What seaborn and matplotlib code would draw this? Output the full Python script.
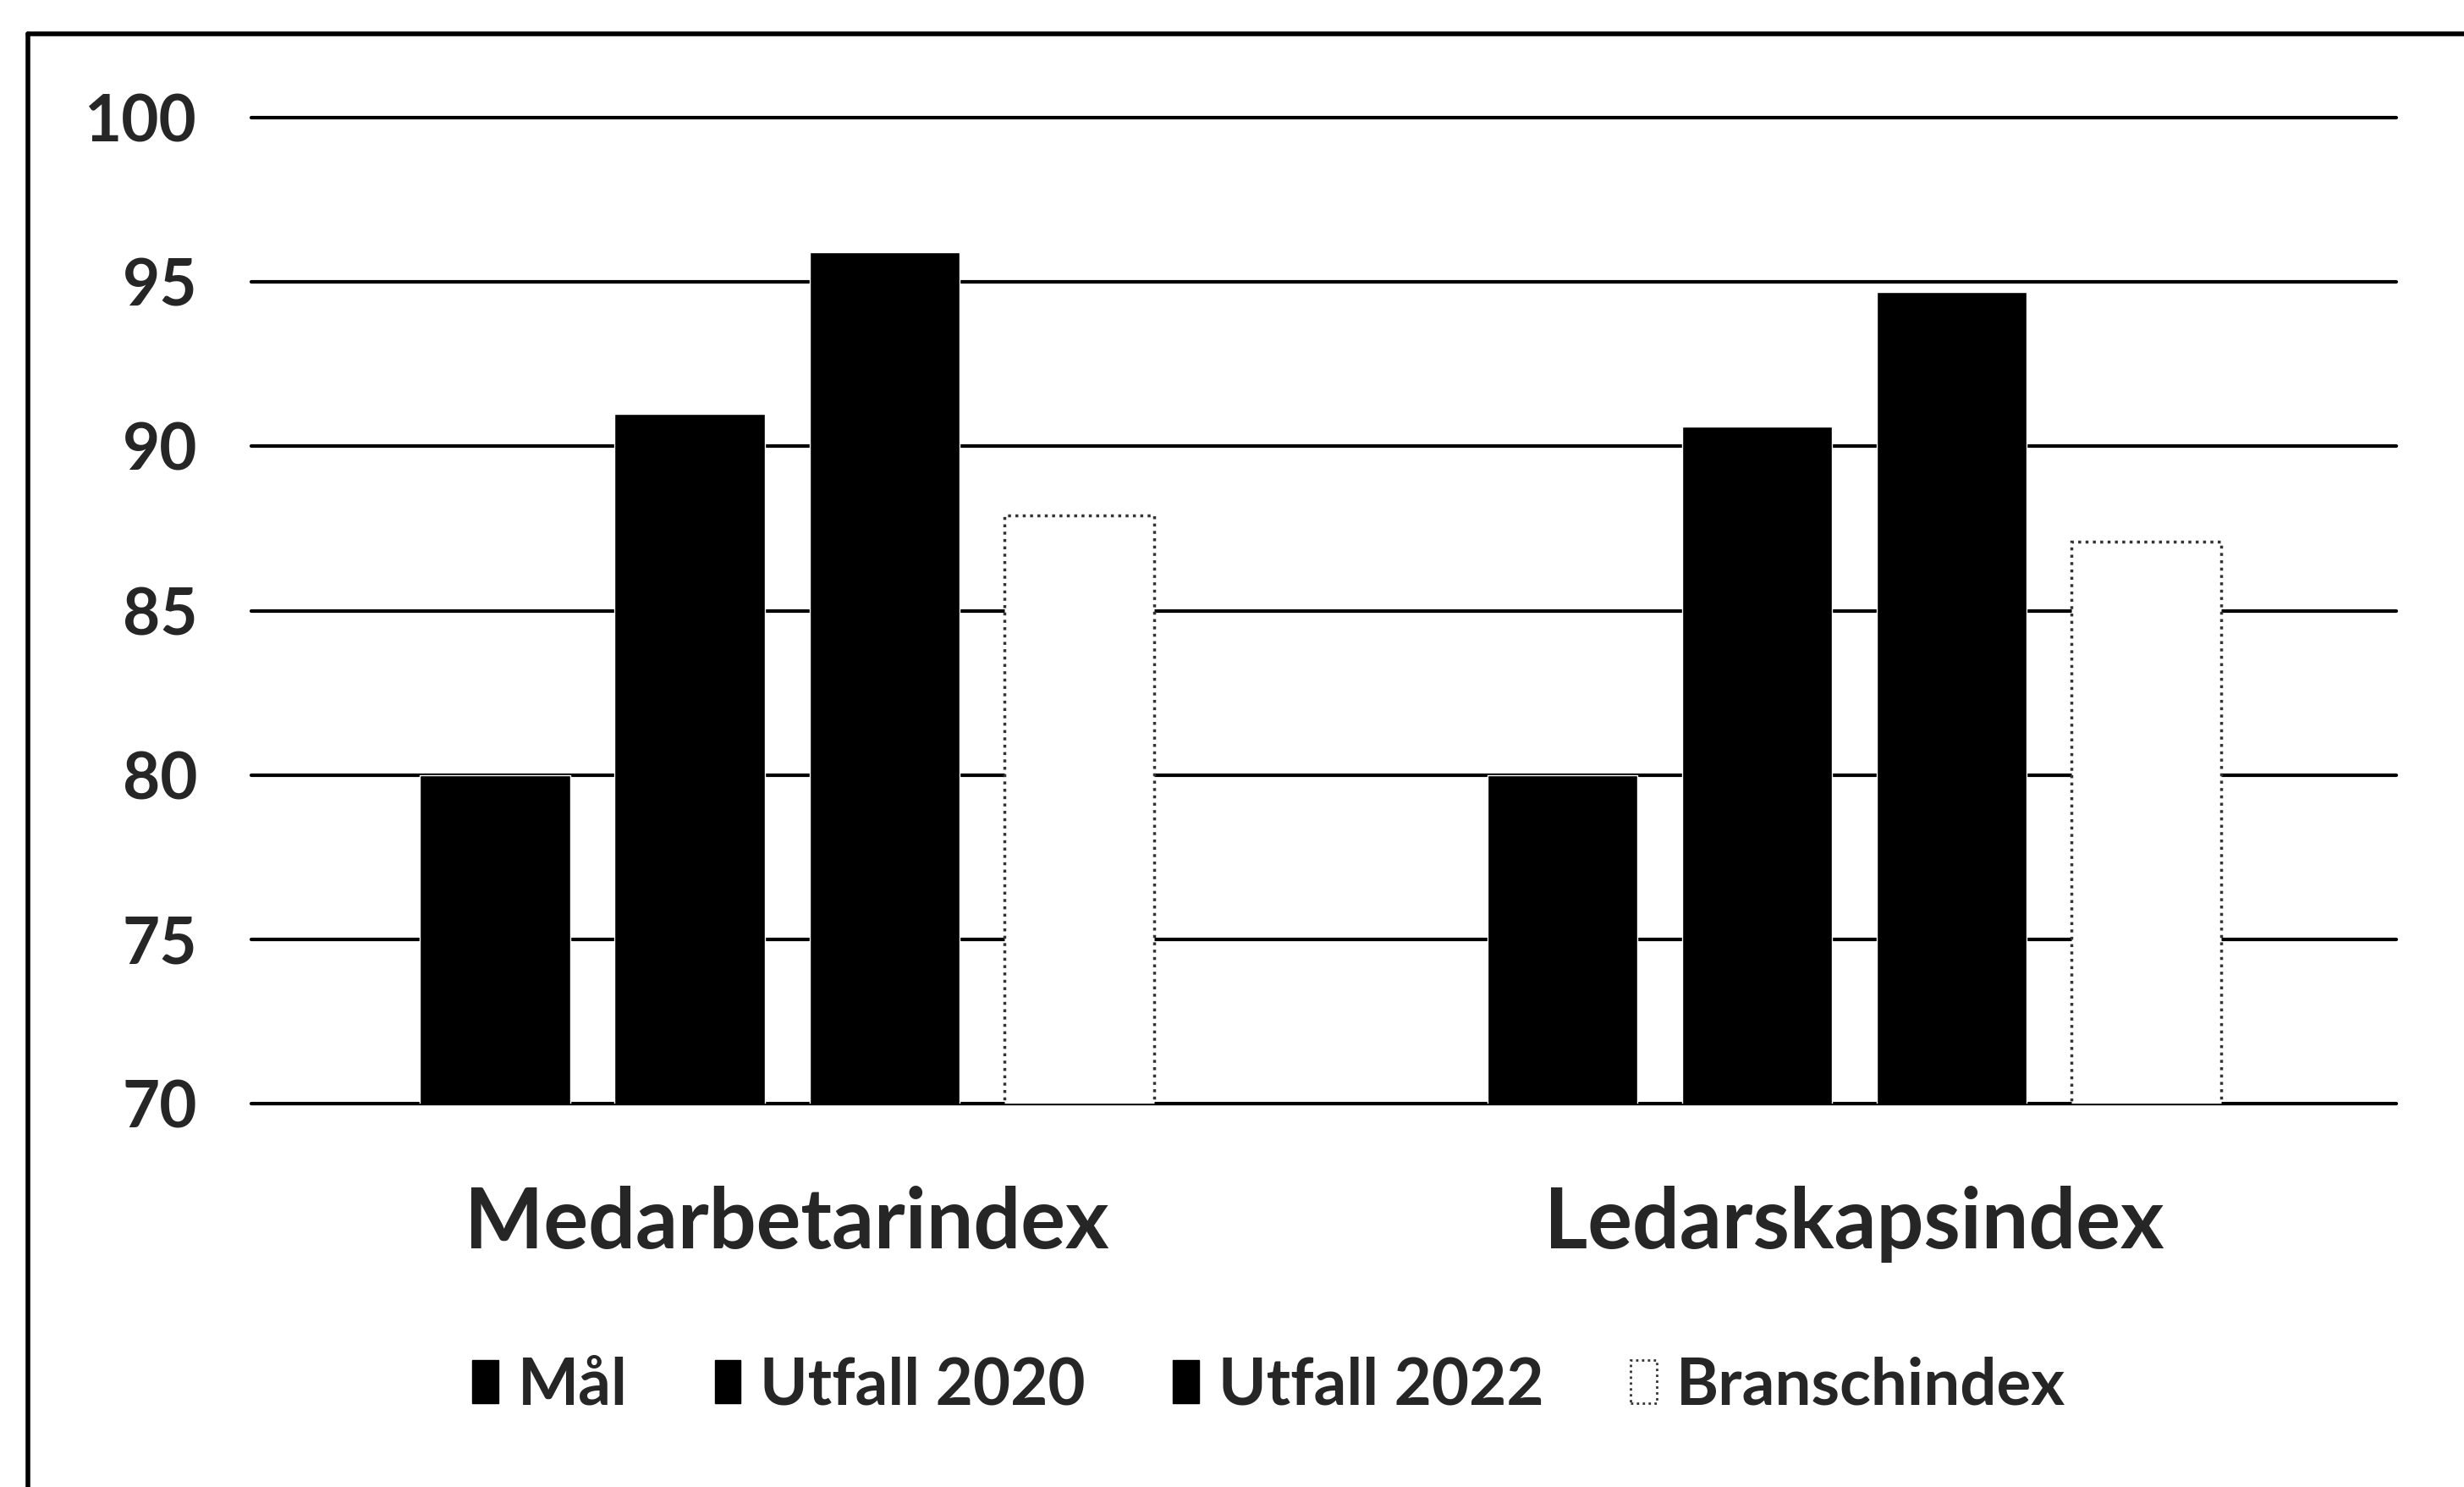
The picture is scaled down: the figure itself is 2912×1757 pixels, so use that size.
import matplotlib
matplotlib.use("Agg")
import matplotlib.pyplot as plt
import seaborn as sns
import pandas as pd
from matplotlib.patches import Patch
from matplotlib.lines import Line2D

categories = ["Medarbetarindex", "Ledarskapsindex"]
series = ["Mål", "Utfall 2020", "Utfall 2022", "Branschindex"]
mal = [80.0, 80.0]
utfall_2020 = [91.0, 90.6]
utfall_2022 = [95.9, 94.7]
branschindex = [87.9, 87.1]
y_ticks = [70, 75, 80, 85, 90, 95, 100]

values = [mal, utfall_2020, utfall_2022, branschindex]
rows = []
for s, vals in zip(series, values):
    for c, v in zip(categories, vals):
        rows.append({"kategori": c, "serie": s, "värde": v})
df = pd.DataFrame(rows)

sns.set_theme(style="white")
plt.rcParams["font.family"] = ["Lato", "DejaVu Sans"]
plt.rcParams["font.weight"] = "bold"

fig = plt.figure(figsize=(29.12, 17.57), dpi=100)
fig.patch.set_facecolor("white")
ax = fig.add_axes([0.102, 0.258, 0.8706, 0.6627])

palette = {"Mål": "black", "Utfall 2020": "black", "Utfall 2022": "black", "Branschindex": "white"}
sns.barplot(data=df, x="kategori", y="värde", hue="serie", hue_order=series,
            order=categories, palette=palette, width=0.73, gap=0.23,
            saturation=1, ax=ax, legend=False, zorder=3)

# Branschindex bars: white with dotted outline
for patch in ax.containers[3]:
    patch.set_edgecolor("#333333")
    patch.set_linestyle((0, (1, 1.5)))
    patch.set_linewidth(2.5)

ax.set_ylim(70, 100)
ax.set_xlim(-0.502, 1.508)
ax.set_yticks(y_ticks)
ax.set_yticklabels([str(t) for t in y_ticks], fontsize=55, fontweight="bold")
for t in y_ticks:
    ax.axhline(t, color="black", lw=3, zorder=1, clip_on=False)
ax.tick_params(axis="y", length=0, pad=46)
ax.tick_params(axis="x", length=0, pad=70)
for lbl in ax.get_xticklabels():
    lbl.set_fontsize(71)
    lbl.set_fontweight("bold")
ax.set_xlabel("")
ax.set_ylabel("")
for sp in ax.spines.values():
    sp.set_visible(False)
ax.grid(False)

handles = [
    Patch(facecolor="black", edgecolor="black"),
    Patch(facecolor="black", edgecolor="black"),
    Patch(facecolor="black", edgecolor="black"),
    Patch(facecolor="white", edgecolor="#333333", linestyle=(0, (1, 1.5)), linewidth=2),
]
fig.legend(handles, series, loc="center", bbox_to_anchor=(0.515, 0.068), ncol=4,
           frameon=False, prop={"size": 55, "weight": "bold"},
           handlelength=0.4, handleheight=0.65, handletextpad=0.3, columnspacing=1.35)

# outer frame (left and top edges visible)
fig.add_artist(Line2D([0.0113, 0.0113], [0.0, 0.977], transform=fig.transFigure, color="black", lw=4))
fig.add_artist(Line2D([0.0113, 1.0], [0.977, 0.977], transform=fig.transFigure, color="black", lw=4))

fig.savefig("out.png", dpi=100, facecolor="white")
